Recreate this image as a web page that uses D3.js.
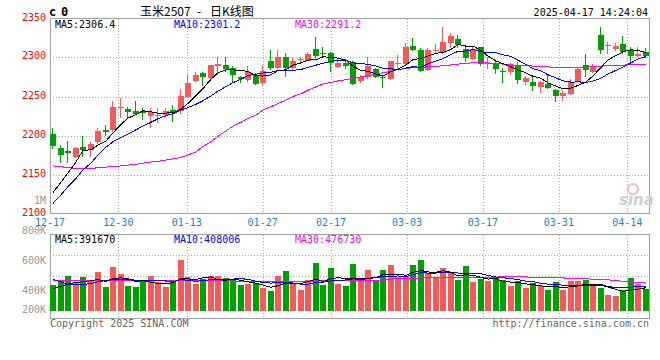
<!DOCTYPE html>
<html>
<head>
<meta charset="utf-8">
<script src="https://cdn.jsdelivr.net/npm/d3@7"></script>
<style>
  body { margin: 0; background: #fff; }
  text { font-family: 'DejaVu Sans Mono', monospace; font-size: 10px; }
</style>
</head>
<body>
<svg id="chart" width="660" height="360"></svg>
<script>
// trading days shown on the chart
var dates = ["12-17","12-18","12-19","12-20","12-23","12-24","12-25","12-26","12-27","12-30","12-31",
  "01-02","01-03","01-06","01-07","01-08","01-09","01-10","01-13","01-14","01-15","01-16","01-17","01-20","01-21","01-22","01-23","01-24","01-27",
  "02-05","02-06","02-07","02-10","02-11","02-12","02-13","02-14","02-17","02-18","02-19","02-20","02-21","02-24","02-25","02-26","02-27","02-28",
  "03-03","03-04","03-05","03-06","03-07","03-10","03-11","03-12","03-13","03-14","03-17","03-18","03-19","03-20","03-21","03-24","03-25","03-26","03-27","03-28","03-31",
  "04-01","04-02","04-03","04-07","04-08","04-09","04-10","04-11","04-14","04-15","04-16","04-17"];
var tickDates = ["12-17","12-30","01-13","01-27","02-17","03-03","03-17","03-31","04-14"];
var priceTicks = [2100, 2150, 2200, 2250, 2300, 2350];
var volTicks = [1000, 800, 600, 400, 200];   // thousands

var open = [2202,2184,2179.5,2173,2185.5,2182,2192,2207,2207,2235,2234,2232,2231,2225,2226,2226,2232.5,2231,2250,2270.5,
  2280,2273.5,2288.5,2290.5,2286,2275.5,2271.5,2277,2267,2295.5,2286,2300.5,2286,2297,2296,2310.5,2305.5,2305.5,2287.5,2292.5,
  2294,2270.5,2275.5,2285,2275.5,2272.5,2291.5,2291.5,2315,2310,2284,2309,2305.5,2318.5,2324,2311,2298,2313,2291.5,2293.5,
  2283,2281,2289.5,2269,2269,2262,2266,2258.5,2251,2253.5,2270,2290.5,2282,2329,2315.5,2310.5,2317,2310,2302.5,2307.5];
var high = [2209,2188,2193,2185,2200,2192,2209,2213,2244,2248,2236,2244,2235,2235,2235,2235,2239,2260,2277,2281,
  2282,2290.5,2300,2300,2288.5,2276.5,2289.5,2280,2290.5,2310,2309.5,2305.5,2299,2300.5,2307.5,2326.5,2313,2307,2299,2298.5,
  2295,2278,2300,2286.5,2278,2295.5,2303.5,2318.5,2325,2312,2312,2317,2338.5,2331,2329,2314,2313,2314,2300,2295.5,
  2286.5,2293.5,2294,2276.5,2278,2270,2278,2260,2258.5,2272,2286,2304.5,2292,2338.5,2320.5,2318.5,2328,2313,2313,2312];
var low = [2183,2165,2165,2171,2173,2173,2189,2199,2205,2222,2222,2226,2220,2209,2216,2222,2217,2228,2249,2269,
  2263,2272.5,2278,2281,2269,2267,2269,2265,2265,2284,2285.5,2274.5,2284,2292.5,2295,2299,2299,2281,2286.5,2285.5,
  2265,2267,2272.5,2273.5,2260.5,2271.5,2286.5,2290.5,2308.5,2282,2283,2304.5,2304.5,2312,2312,2294,2297,2289.5,2285.5,2279,
  2267,2278,2266,2265,2256.5,2255,2260,2243.5,2244.5,2252,2269,2275.5,2280,2304.5,2304.5,2308.5,2304.5,2293.5,2300,2299];
var close = [2186,2175,2178,2184,2182,2189,2206,2204,2236,2236,2229.5,2228,2229,2229.5,2226.5,2231,2230,2251,2267.5,2278,
  2274.5,2290,2292,2285.5,2278,2273,2281,2266,2283,2286,2300,2286,2296,2297.5,2304,2302.5,2304.5,2292.5,2292.5,2289.5,
  2266,2275.5,2288.5,2275.5,2275,2295,2292.5,2314,2310,2283,2310,2310,2320.5,2328,2315.5,2299,2310.5,2291.5,2292.5,2285,
  2281,2290.5,2271.5,2273.5,2263,2268,2261.5,2251,2255,2268,2285.5,2284,2289.5,2309,2316,2315,2307,2302.5,2304.5,2301.5];

var ma5 = [2127,2140,2152,2166,2181,2181.6,2187.8,2193,2203.4,2214.2,2222.3,2226.7,2231.7,2230.4,2228.5,2228.8,2229.2,2233.6,2241.2,2251.5,
  2260.2,2272.2,2280.4,2284,2284,2283.7,2281.9,2276.7,2276.2,2277.8,2283.2,2284.2,2290.2,2293.1,2296.7,2297.2,2300.9,2300.2,2299.2,2296.3,
  2289,2283.2,2282.4,2279,2276.1,2281.9,2285.3,2290.4,2297.3,2298.9,2301.9,2305.4,2306.7,2310.3,2316.8,2314.6,2314.7,2308.9,2301.8,2295.7,
  2292.1,2288.1,2284.1,2280.3,2275.9,2273.3,2267.5,2263.4,2259.7,2260.7,2264.2,2268.7,2276.4,2287.2,2296.8,2302.7,2307.3,2309.9,2309,2306.4];
var ma10 = [2113,2124,2134.5,2145,2156,2164.5,2175,2185,2192,2197.6,2202,2207.3,2212.4,2216.9,2221.4,2225.6,2228,2232.7,2235.8,2240,
  2244.5,2250.7,2257,2262.6,2267.8,2272,2277,2278.6,2280.1,2280.9,2283.5,2283,2283.5,2284.7,2287.3,2290.2,2292.6,2295.2,2296.2,2296.5,
  2293.1,2292.1,2291.3,2289.1,2286.2,2285.5,2284.3,2286.4,2288.2,2287.5,2291.9,2295.4,2298.6,2303.8,2307.9,2308.3,2310.1,2307.8,2306.1,2306.3,
  2303.4,2301.4,2296.5,2291.1,2285.8,2282.7,2277.8,2273.8,2270,2268.3,2268.8,2268.1,2269.9,2273.5,2278.8,2283.5,2288,2293.2,2298.1,2301.2];
var ma30 = [2161,2160,2158.5,2158,2158,2158,2158.5,2159.5,2160,2161,2162,2163,2164.5,2166,2167,2168.5,2170,2172,2175,2179,
  2186,2192,2199,2206,2212,2217,2222,2226,2233,2237,2241,2245.5,2250,2253.5,2258,2262.5,2266,2268,2270,2271.5,
  2273.5,2275,2276.5,2278.5,2280.5,2282.5,2284.5,2286,2287,2287.3,2288,2288.5,2289.5,2290.5,2291.5,2292.5,2293.2,2293.6,2293,2292.5,
  2291.5,2290.5,2290,2289.5,2289,2288.5,2288,2287.2,2287,2287,2287.2,2287.5,2288.3,2289,2289.5,2290,2290.3,2290.6,2291,2291.2];

// volume in thousands
var volume = [442,534,608,473,589,516,682,405,774,645,424,405,516,608,503,405,516,903,589,460,
  553,608,608,571,553,442,460,479,387,332,608,700,473,350,534,847,442,755,460,424,
  829,534,718,529,718,810,593,617,810,903,667,562,755,682,534,792,501,558,519,567,
  534,427,519,390,475,427,357,501,350,507,525,538,433,390,258,239,341,571,460,368];
var volMa5 = [375,420,460,490,503,517,545,506,563,574,557,504,525,494,466,463,485,558,554,546,
  574,592,536,532,550,528,501,476,441,399,430,476,475,468,506,552,503,557,578,557,
  553,570,563,577,633,629,640,620,675,710,682,676,702,678,608,632,620,582,552,558,
  509,495,487,463,446,426,412,409,401,407,426,460,447,455,408,360,325,352,365,391.67];
var volMa10 = [548,500,455,445,450,470,500,525,545,550,545,530,520,530,525,515,500,545,527,510,
  522,540,550,547,552,555,550,510,490,478,483,492,480,458,457,495,493,520,527,535,
  556,541,564,580,598,595,609,596,630,675,660,663,666,681,663,662,652,647,619,588,
  575,562,540,512,506,472,458,453,437,431,430,440,432,432,413,396,395,402,413,408.006];
var volMa30 = [520,519,518,518,517,517,518,519,520,520,519,518,518,517,517,516,516,518,518,517,
  517,518,518,517,515,508,505,503,502,504,510,513,514,514,515,516,516,518,518,519,
  520,521,522,523,528,548,563,568,570,571,572,573,573,574,575,575,576,576,578,588,
  592,592,591,590,585,582,580,578,572,566,563,560,548,544,540,520,512,496,490,476.73];

var RED = "#f55a5a", GREEN = "#00a000", GRID = "#aaa", FRAME = "#a0a0a0";
var n = dates.length;
var idx = d3.range(n);

var svg = d3.select("#chart");

var x = d3.scaleBand().domain(idx).range([50, 650]).paddingInner(0.2).paddingOuter(0.1).align(0);
var xGrid = d3.scaleLinear().domain([0, n - 1]).range([50, 650]);
var y = d3.scaleLinear().domain([2100, 2350]).range([213.5, 18.5]);
var yVol = d3.scaleLinear().domain([0, 1400]).range([309, 233]);
var yVolTick = d3.scaleLinear().domain([200, 1000]).range([324, 204]);

function bx(i) { return Math.round(x(i)); }
function isUp(i) { return close[i] >= open[i]; }

/*
  Header: status mark, title and timestamp
*/
svg.append("text").attr("x", 49).attr("y", 15.5).style("font-size", "12px").style("font-weight", "bold").text("c");
svg.append("text").attr("x", 61).attr("y", 15.5).style("font-size", "12px").style("font-weight", "bold").text("0");
svg.append("text").attr("x", 140).attr("y", 15.5)
   .style("font-family", "'Noto Sans CJK SC', sans-serif").style("font-size", "12px").text("玉米2507");
svg.append("text").attr("x", 197).attr("y", 15.5)
   .style("font-family", "'Noto Sans CJK SC', sans-serif").style("font-size", "12px").text("-");
svg.append("text").attr("x", 210).attr("y", 15.5)
   .style("font-family", "'Noto Sans CJK SC', sans-serif").style("font-size", "12px").text("日K线图");
svg.append("text").attr("x", 648).attr("y", 15.5).attr("text-anchor", "end").text("2025-04-17 14:24:04");

/*
  Grid lines for both panels
*/
var grid = svg.append("g").attr("shape-rendering", "crispEdges");
[2150, 2200, 2250, 2300].forEach(function(p) {
  grid.append("line").attr("x1", 50).attr("x2", 649).attr("y1", Math.round(y(p)) + 0.5).attr("y2", Math.round(y(p)) + 0.5)
      .attr("stroke", GRID).attr("stroke-dasharray", "1,2");
});
[255.5, 276.5, 297.5].forEach(function(gy) {
  grid.append("line").attr("x1", 50).attr("x2", 649).attr("y1", gy).attr("y2", gy)
      .attr("stroke", GRID).attr("stroke-dasharray", "1,2");
});
tickDates.forEach(function(d) {
  var gx = Math.round(xGrid(dates.indexOf(d))) + 0.5;
  if (gx < 52) return;
  grid.append("line").attr("x1", gx).attr("x2", gx).attr("y1", 19).attr("y2", 213)
      .attr("stroke", GRID).attr("stroke-dasharray", "1,2");
  grid.append("line").attr("x1", gx).attr("x2", gx).attr("y1", 235).attr("y2", 318)
      .attr("stroke", GRID).attr("stroke-dasharray", "1,2");
});

/*
  Frames
*/
svg.append("rect").attr("x", 50.5).attr("y", 18.5).attr("width", 599).attr("height", 195)
   .attr("fill", "none").attr("stroke", FRAME).attr("shape-rendering", "crispEdges");
svg.append("rect").attr("x", 50.5).attr("y", 234.5).attr("width", 599).attr("height", 84)
   .attr("fill", "none").attr("stroke", FRAME).attr("shape-rendering", "crispEdges");

// sina watermark
svg.append("circle").attr("cx", 633).attr("cy", 189).attr("r", 5).attr("fill", "none").attr("stroke", "#f3b8b8").attr("stroke-width", 2);
svg.append("text").attr("x", 619).attr("y", 205).style("font-family", "'DejaVu Sans', sans-serif")
   .style("font-size", "15px").style("font-style", "italic").style("font-weight", "bold")
   .attr("fill", "#cfcfcf").text("sina");

/*
  Axis labels
*/
priceTicks.forEach(function(p) {
  svg.append("text").attr("x", 46).attr("y", Math.round(y(p)) + 2).attr("text-anchor", "end")
     .attr("fill", "#f00").text(p);
});
volTicks.forEach(function(v) {
  svg.append("text").attr("x", 46).attr("y", Math.min(yVolTick(v), 313)).attr("text-anchor", "end")
     .attr("fill", "#999").text(v >= 1000 ? (v / 1000) + "M" : v + "K");
});
tickDates.forEach(function(d) {
  svg.append("text").attr("x", xGrid(dates.indexOf(d))).attr("y", 225.5).attr("text-anchor", "middle")
     .attr("fill", "#1a7fd2").text(d);
});

/*
  Candles
*/
var candles = svg.append("g").attr("shape-rendering", "crispEdges");
candles.selectAll("line.wick").data(idx).enter().append("line")
  .attr("class", "wick")
  .attr("x1", function(i) { return bx(i) + 2.5; })
  .attr("x2", function(i) { return bx(i) + 2.5; })
  .attr("y1", function(i) { return Math.round(y(high[i])); })
  .attr("y2", function(i) { return Math.round(y(low[i])); })
  .attr("stroke", function(i) { return isUp(i) ? RED : GREEN; });
candles.selectAll("rect.body").data(idx).enter().append("rect")
  .attr("class", "body")
  .attr("x", function(i) { return bx(i); })
  .attr("width", x.bandwidth())
  .attr("y", function(i) { return Math.round(y(Math.max(open[i], close[i]))); })
  .attr("height", function(i) {
    var h = Math.round(y(Math.min(open[i], close[i]))) - Math.round(y(Math.max(open[i], close[i])));
    return Math.max(1, h);
  })
  .attr("fill", function(i) { return isUp(i) ? RED : GREEN; });

/*
  Volume bars
*/
svg.append("g").attr("shape-rendering", "crispEdges")
  .selectAll("rect").data(idx).enter().append("rect")
  .attr("x", function(i) { return bx(i); })
  .attr("width", x.bandwidth())
  .attr("y", function(i) { return Math.round(yVol(volume[i])); })
  .attr("height", function(i) { return 311 - Math.round(yVol(volume[i])); })
  .attr("fill", function(i) { return isUp(i) ? RED : GREEN; });

/*
  Moving average lines
*/
function drawLine(values, scale, color) {
  var line = d3.line()
    .x(function(v, i) { return bx(i) + 3; })
    .y(function(v) { return scale(v); });
  svg.append("path").datum(values).attr("d", line)
     .attr("fill", "none").attr("stroke", color).attr("stroke-width", 1).attr("shape-rendering", "crispEdges");
}
drawLine(ma30, y, "#f0f");
drawLine(ma10, y, "#00f");
drawLine(ma5, y, "#000");
drawLine(volMa30, yVol, "#f0f");
drawLine(volMa10, yVol, "#00f");
drawLine(volMa5, yVol, "#000");

/*
  Legends
*/
svg.append("text").attr("x", 55).attr("y", 27.5).attr("fill", "#000").text("MA5:" + ma5[n - 1].toFixed(1));
svg.append("text").attr("x", 174).attr("y", 27.5).attr("fill", "#00f").text("MA10:" + ma10[n - 1].toFixed(1));
svg.append("text").attr("x", 295).attr("y", 27.5).attr("fill", "#f0f").text("MA30:" + ma30[n - 1].toFixed(1));
svg.append("text").attr("x", 55).attr("y", 242.5).attr("fill", "#000").text("MA5:" + Math.round(volMa5[n - 1] * 1000));
svg.append("text").attr("x", 174).attr("y", 242.5).attr("fill", "#00f").text("MA10:" + Math.round(volMa10[n - 1] * 1000));
svg.append("text").attr("x", 295).attr("y", 242.5).attr("fill", "#f0f").text("MA30:" + Math.round(volMa30[n - 1] * 1000));

// footer
svg.append("text").attr("x", 50).attr("y", 326.5).attr("fill", "#666").text("Copyright 2025 SINA.COM");
svg.append("text").attr("x", 649).attr("y", 326.5).attr("text-anchor", "end").attr("fill", "#666").text("http://finance.sina.com.cn");
</script>
</body>
</html>
